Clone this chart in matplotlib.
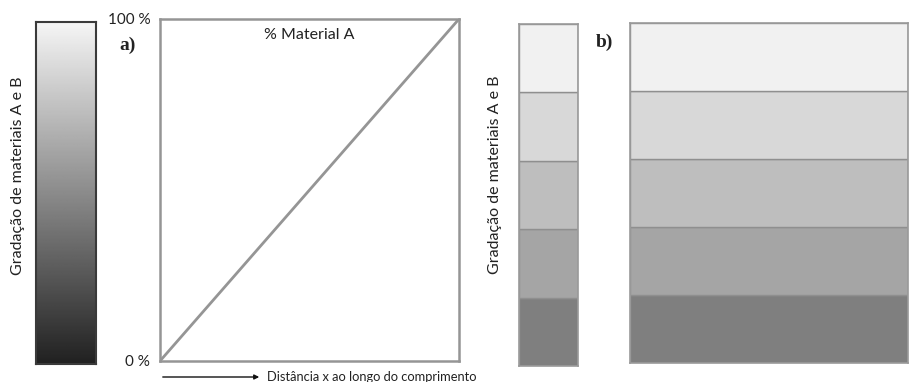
import matplotlib
matplotlib.use('Agg')
import matplotlib.pyplot as plt
import numpy as np

# --- data ---
material_a_x = [0, 100]          # distance along length (%)
material_a_y = [0, 100]          # % material A
y_tick_values = [0, 100]
y_tick_labels = ["0 %", "100 %"]
band_heights = [1, 1, 1, 1, 1]   # stepped gradation, bottom to top
band_colors = ["#7f7f7f", "#a5a5a5", "#bebebe", "#d8d8d8", "#f1f1f1"]

W, H = 911, 382
SANS = ["Lato", "DejaVu Sans"]
SERIF = ["Liberation Serif", "DejaVu Serif"]


def px_axes(fig, x0, y0, x1, y1):
    """Add an axes from pixel box (top-left origin)."""
    return fig.add_axes([x0 / W, 1 - y1 / H, (x1 - x0) / W, (y1 - y0) / H])


def stacked_column(ax, heights, colors):
    bottom = 0
    for h, c in zip(heights, colors):
        ax.bar(0, h, bottom=bottom, width=1, color=c, edgecolor="#8f8f8f", linewidth=1.0)
        bottom += h
    ax.set_xlim(-0.5, 0.5)
    ax.set_ylim(0, bottom)
    ax.set_xticks([])
    ax.set_yticks([])
    for s in ax.spines.values():
        s.set_color("#9a9a9a")
        s.set_linewidth(1.2)


fig = plt.figure(figsize=(W / 100, H / 100), dpi=100)

# continuous gradient bar
ax_g = px_axes(fig, 36, 22, 96, 364)
grad = np.linspace(0.96, 0.13, 256).reshape(-1, 1)
ax_g.imshow(grad, cmap="gray", vmin=0, vmax=1, aspect="auto", interpolation="bilinear")
ax_g.set_xticks([])
ax_g.set_yticks([])
for s in ax_g.spines.values():
    s.set_color("#3a3a3a")
    s.set_linewidth(1.5)
fig.text(18 / W, 1 - 176 / H, "Gradação de materiais A e B", rotation=90,
         ha="center", va="center", fontsize=11.5, family=SANS, color="#222")

# panel a: linear variation of material A
ax_a = px_axes(fig, 160, 19, 459, 361)
ax_a.plot(material_a_x, material_a_y, color="#959595", linewidth=2)
ax_a.set_xlim(0, 100)
ax_a.set_ylim(0, 100)
ax_a.set_xticks([])
ax_a.set_yticks(y_tick_values)
ax_a.set_yticklabels(y_tick_labels, family=SANS, fontsize=11, color="#222")
ax_a.tick_params(axis="y", length=0, pad=7)
for s in ax_a.spines.values():
    s.set_color("#959595")
    s.set_linewidth(1.8)
ax_a.text(0.5, 0.953, "% Material A", transform=ax_a.transAxes, ha="center", va="center",
          fontsize=11.5, family=SANS, color="#222")
fig.text(128 / W, 1 - 45 / H, "a)", ha="center", va="center", fontsize=14,
         family=SERIF, weight="bold", color="#222")

# distance arrow
fig.add_artist(matplotlib.patches.FancyArrowPatch(
    (160 / W, 1 - 377 / H), (262 / W, 1 - 377 / H), transform=fig.transFigure,
    arrowstyle="-|>", mutation_scale=7, color="#111", linewidth=1.0))
fig.text(267 / W, 1 - 377 / H, "Distância x ao longo do comprimento", ha="left", va="center",
         fontsize=9.3, family=SANS, color="#222")

# panel b: stepped gradation
fig.text(495 / W, 1 - 175 / H, "Gradação de materiais A e B", rotation=90,
         ha="center", va="center", fontsize=11.5, family=SANS, color="#222")
ax_s = px_axes(fig, 519, 24, 578, 366)
stacked_column(ax_s, band_heights, band_colors)
fig.text(604 / W, 1 - 42 / H, "b)", ha="center", va="center", fontsize=14,
         family=SERIF, weight="bold", color="#222")
ax_b = px_axes(fig, 630, 23, 908, 363)
stacked_column(ax_b, band_heights, band_colors)

fig.savefig("out.png", dpi=100, facecolor="white")
